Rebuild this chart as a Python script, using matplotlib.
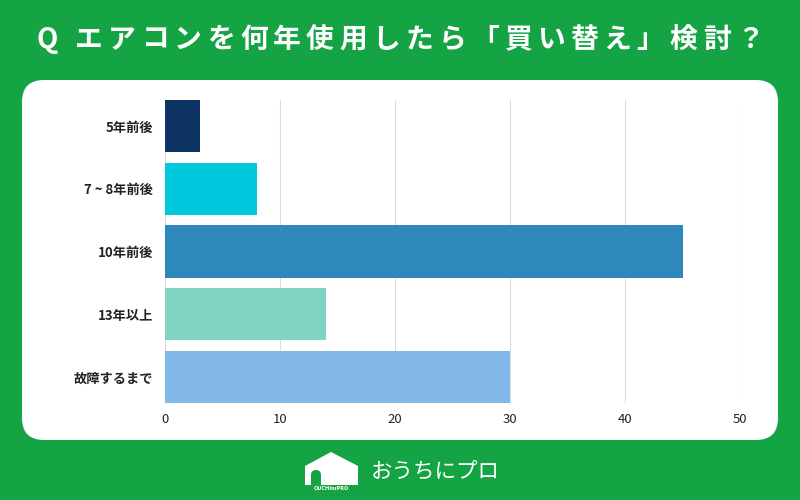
import matplotlib
matplotlib.use("Agg")
from matplotlib import pyplot as plt
from matplotlib.patches import FancyBboxPatch, Polygon, Rectangle
import numpy as np

plt.rcParams['font.family'] = ['Noto Sans CJK JP', 'DejaVu Sans']

# data
categories = ['5年前後', '7 ~ 8年前後', '10年前後', '13年以上', '故障するまで']
values = [3, 8, 45, 14, 30]
bar_colors = ['#0d3464', '#00c9de', '#2f88bc', '#7fd4c2', '#82b9e9']
xticks = [0, 10, 20, 30, 40, 50]
title = 'Q エアコンを何年使用したら「買い替え」検討？'

green = '#14a443'

fig = plt.figure(figsize=(8, 5), dpi=100)
fig.patch.set_facecolor(green)

# background layer in pixel coords
bg = fig.add_axes([0, 0, 1, 1])
bg.set_xlim(0, 800)
bg.set_ylim(500, 0)
bg.axis('off')

panel = FancyBboxPatch((22 + 22, 80 + 22), 756 - 44, 360 - 44,
                       boxstyle='round,pad=22', facecolor='white',
                       edgecolor='none')
bg.add_patch(panel)

# title with letter spacing, drawn char by char
renderer = fig.canvas.get_renderer()
spacing = 5.3
chars = []
widths = []
for ch in title:
    t = bg.text(0, 40, ch, color='white', fontsize=20, fontweight='bold',
                ha='left', va='center')
    w = t.get_window_extent(renderer).width
    chars.append(t)
    widths.append(w)
total = sum(widths) + spacing * (len(title) - 1)
x = 400 - total / 2
for t, w in zip(chars, widths):
    t.set_x(x)
    x += w + spacing

# logo: house icon + name
house = Polygon([(305, 492), (305, 466), (331, 452), (358, 466), (358, 492)],
                closed=True, facecolor='white', edgecolor='none')
bg.add_patch(house)
door = FancyBboxPatch((311, 470), 10, 20, boxstyle='round,pad=0,rounding_size=5',
                      facecolor=green, edgecolor='none')
bg.add_patch(door)
bg.add_patch(Rectangle((305, 485), 53, 8, facecolor=green, edgecolor='none'))
bg.text(331.5, 489, 'OUCHInıPRO', color='white', fontsize=3.6, fontweight='bold',
        ha='center', va='center', family='DejaVu Sans')
bg.text(371, 473, 'おうちにプロ', color='white', fontsize=15.5,
        ha='left', va='center')

# chart
ax = fig.add_axes([165 / 800, 97 / 500, 575 / 800, 303 / 500])
ax.set_facecolor('none')
y = np.arange(len(categories))
ax.barh(y, values, height=0.83, color=bar_colors, zorder=3)
ax.set_xlim(0, 50)
ax.set_ylim(len(categories) - 1 + 0.415, -0.415)
ax.set_xticks(xticks)
ax.set_yticks(y)
ax.set_yticklabels(categories, fontsize=9.5, fontweight='bold', color='#222222')
ax.tick_params(axis='x', labelsize=9.5, colors='#222222', length=0, pad=7)
ax.tick_params(axis='y', length=0, pad=8.5)
ax.grid(axis='x', color='#dcdcdc', linewidth=0.8, zorder=0)
for s in ax.spines.values():
    s.set_visible(False)
for lab in ax.get_xticklabels():
    lab.set_clip_on(False)

fig.savefig('out.png', dpi=100, facecolor=green)
